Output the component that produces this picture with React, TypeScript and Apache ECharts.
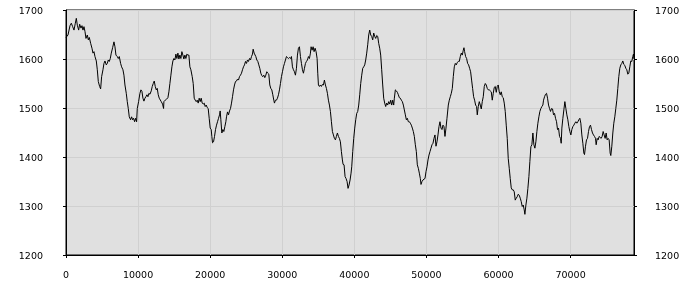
import React, { useEffect, useRef } from "react";
import * as echarts from "echarts";

const X_MIN = 0;
const X_MAX = 78800;
const Y_MIN = 1200;
const Y_MAX = 1700;
const X_STEP = 10000;
const Y_STEP = 100;
const xTickValues = [0, 10000, 20000, 30000, 40000, 50000, 60000, 70000];

const seg0to13k: [number, number][] = [
  [0,1644],[277,1649],[555,1668],[739,1673],[924,1666],[1109,1659],[1294,1673],[1432,1683],[1571,1669],[1756,1659],[1894,1671],[2079,1663],[2218,1668],[2356,1659],[2495,1666],[2634,1656],[2772,1642],[2957,1649],[3096,1639],[3234,1644],[3419,1632],[3604,1622],[3742,1612],[3881,1615],[4020,1605],[4204,1596],[4343,1578],[4482,1554],[4666,1544],[4805,1539],[4944,1564],[5128,1578],[5267,1591],[5406,1596],[5590,1588],[5729,1591],[5868,1598],[6006,1595],[6145,1601],[6283,1612],[6468,1623],[6653,1635],[6792,1625],[6930,1608],[7115,1605],[7254,1601],[7392,1605],[7577,1591],[7716,1584],[7900,1578],[8039,1567],[8178,1547],[8362,1530],[8501,1513],[8640,1499],[8778,1482],[8963,1476],[9102,1482],[9240,1476],[9379,1479],[9517,1472],[9656,1479],[9795,1472],[9887,1499],[10072,1513],[10257,1530],[10395,1537],[10534,1534],[10672,1520],[10811,1514],[10950,1520],[11088,1523],[11227,1527],[11365,1523],[11504,1530],[11643,1528],[11827,1535],[11966,1544],[12105,1550],[12243,1555],[12382,1544],[12520,1537],[12659,1540],[12798,1527],[12936,1520]
];

const seg13to26k: [number, number][] = [
  [13213,1513],[13398,1508],[13536,1499],[13582,1513],[13767,1516],[13952,1518],[14137,1521],[14275,1533],[14414,1550],[14553,1567],[14691,1584],[14830,1596],[14968,1601],[15107,1598],[15246,1610],[15384,1601],[15523,1612],[15661,1600],[15800,1608],[15939,1601],[16077,1615],[16216,1608],[16354,1600],[16493,1608],[16632,1601],[16770,1610],[16909,1608],[17047,1608],[17186,1584],[17325,1578],[17509,1564],[17648,1550],[17787,1520],[17925,1516],[18064,1513],[18202,1516],[18341,1510],[18480,1520],[18618,1513],[18757,1520],[18895,1510],[19034,1508],[19173,1510],[19311,1503],[19450,1506],[19588,1501],[19727,1499],[19866,1479],[20004,1459],[20143,1456],[20235,1442],[20328,1429],[20466,1431],[20605,1442],[20743,1456],[20882,1465],[21021,1472],[21159,1479],[21298,1486],[21390,1494],[21483,1476],[21621,1449],[21760,1456],[21898,1452],[22037,1462],[22176,1472],[22268,1482],[22407,1492],[22545,1486],[22684,1494],[22822,1499],[22961,1510],[23100,1523],[23238,1537],[23377,1547],[23515,1554],[23654,1555],[23793,1559],[23931,1557],[24070,1564],[24208,1567],[24347,1571],[24486,1578],[24624,1584],[24763,1588],[24901,1595],[25040,1591],[25179,1598],[25317,1595],[25456,1601],[25594,1598],[25733,1605],[25872,1610],[25964,1620],[26103,1612]
];

const seg26to40k: [number, number][] = [
  [26334,1605],[26473,1598],[26611,1595],[26750,1588],[26888,1581],[27027,1571],[27166,1566],[27304,1564],[27443,1567],[27581,1562],[27720,1567],[27859,1574],[27997,1571],[28136,1569],[28274,1547],[28413,1540],[28552,1537],[28690,1527],[28829,1516],[28921,1510],[29060,1516],[29198,1516],[29337,1520],[29476,1527],[29614,1537],[29753,1550],[29891,1564],[30030,1574],[30169,1584],[30307,1591],[30446,1598],[30584,1605],[30723,1603],[30862,1601],[31000,1603],[31139,1601],[31277,1605],[31416,1584],[31555,1578],[31693,1574],[31832,1567],[31970,1581],[32109,1608],[32248,1622],[32386,1625],[32525,1605],[32663,1591],[32802,1578],[32941,1571],[33079,1581],[33218,1591],[33356,1595],[33495,1598],[33634,1605],[33772,1601],[33911,1612],[34003,1625],[34142,1618],[34280,1625],[34419,1615],[34558,1622],[34696,1615],[34835,1601],[34927,1571],[35020,1547],[35158,1544],[35297,1547],[35435,1544],[35574,1548],[35713,1547],[35851,1557],[35990,1547],[36128,1540],[36267,1530],[36406,1516],[36544,1506],[36683,1493],[36821,1472],[36960,1452],[37099,1445],[37237,1438],[37376,1435],[37514,1442],[37653,1449],[37792,1442],[37930,1438],[38069,1431],[38207,1411],[38346,1394],[38438,1385],[38577,1384],[38716,1360],[38854,1356],[38993,1350],[39131,1336],[39270,1343],[39409,1353],[39547,1367]
];

const seg40to53k: [number, number][] = [
  [39640,1380],[39779,1411],[39917,1438],[40056,1459],[40194,1476],[40333,1489],[40472,1493],[40610,1506],[40749,1527],[40887,1550],[41026,1567],[41165,1581],[41303,1584],[41442,1588],[41580,1598],[41719,1612],[41858,1629],[41996,1649],[42135,1659],[42273,1649],[42412,1646],[42551,1639],[42689,1653],[42828,1646],[42966,1642],[43105,1648],[43244,1646],[43382,1632],[43521,1622],[43659,1608],[43798,1578],[43937,1547],[44075,1520],[44214,1510],[44352,1503],[44491,1510],[44630,1506],[44768,1513],[44907,1508],[45045,1516],[45184,1506],[45323,1516],[45461,1506],[45554,1520],[45692,1537],[45831,1535],[45969,1532],[46108,1527],[46247,1521],[46385,1520],[46524,1516],[46662,1513],[46801,1506],[46940,1496],[47078,1486],[47217,1476],[47355,1479],[47494,1472],[47633,1472],[47771,1469],[47910,1465],[48048,1459],[48187,1452],[48326,1442],[48464,1425],[48603,1411],[48741,1384],[48880,1377],[49019,1367],[49157,1356],[49250,1344],[49388,1350],[49527,1353],[49665,1355],[49804,1356],[49943,1370],[50081,1380],[50220,1394],[50358,1404],[50497,1411],[50636,1418],[50774,1425],[50913,1428],[51051,1438],[51190,1445],[51329,1422],[51467,1431],[51606,1445],[51744,1462],[51883,1472],[52022,1459],[52160,1456],[52299,1465],[52437,1462],[52576,1442],[52715,1459],[52853,1479]
];

const seg53to66k: [number, number][] = [
  [53037,1506],[53176,1516],[53315,1523],[53453,1530],[53592,1540],[53730,1564],[53869,1584],[54008,1591],[54146,1588],[54285,1593],[54423,1595],[54562,1595],[54701,1605],[54839,1612],[54978,1608],[55116,1618],[55209,1623],[55301,1615],[55440,1605],[55578,1601],[55717,1591],[55856,1588],[55994,1581],[56133,1574],[56271,1557],[56410,1540],[56549,1523],[56687,1516],[56826,1506],[56964,1503],[57057,1486],[57195,1503],[57334,1513],[57473,1506],[57611,1498],[57750,1513],[57888,1523],[58027,1544],[58166,1550],[58304,1547],[58443,1540],[58581,1537],[58720,1537],[58859,1535],[58997,1533],[59136,1516],[59274,1530],[59413,1542],[59552,1544],[59690,1532],[59829,1544],[59967,1547],[60106,1533],[60245,1527],[60383,1533],[60522,1523],[60660,1521],[60799,1510],[60938,1493],[61076,1465],[61215,1438],[61353,1397],[61492,1377],[61631,1356],[61769,1337],[61908,1333],[62046,1333],[62185,1329],[62324,1312],[62462,1316],[62601,1319],[62739,1324],[62878,1322],[63017,1316],[63155,1309],[63294,1299],[63432,1302],[63571,1292],[63663,1283],[63802,1302],[63941,1316],[64079,1336],[64218,1360],[64356,1391],[64495,1421],[64634,1425],[64772,1449],[64911,1425],[65049,1418],[65188,1431],[65327,1452],[65465,1469],[65604,1482],[65742,1493],[65881,1499],[66020,1503],[66158,1506]
];

const seg66to79k: [number, number][] = [
  [66251,1516],[66390,1523],[66528,1528],[66667,1530],[66805,1520],[66944,1506],[67083,1499],[67221,1493],[67360,1499],[67498,1498],[67637,1486],[67776,1489],[67914,1479],[68053,1472],[68191,1456],[68330,1459],[68469,1442],[68607,1438],[68700,1428],[68792,1459],[68931,1479],[69069,1496],[69208,1513],[69347,1499],[69485,1486],[69624,1476],[69762,1462],[69901,1452],[70040,1445],[70178,1456],[70317,1462],[70455,1465],[70594,1469],[70733,1472],[70871,1469],[71010,1472],[71148,1476],[71287,1479],[71425,1469],[71564,1445],[71703,1428],[71841,1408],[71934,1405],[72072,1422],[72211,1435],[72349,1438],[72488,1452],[72627,1462],[72765,1465],[72904,1456],[73042,1449],[73181,1445],[73320,1442],[73458,1438],[73551,1425],[73689,1438],[73828,1435],[73966,1442],[74105,1440],[74244,1438],[74382,1442],[74521,1452],[74659,1445],[74798,1438],[74937,1449],[75075,1435],[75214,1438],[75352,1435],[75491,1408],[75583,1403],[75722,1422],[75861,1449],[75999,1469],[76138,1482],[76276,1499],[76415,1516],[76554,1540],[76692,1564],[76831,1581],[76969,1588],[77108,1591],[77247,1596],[77385,1589],[77524,1587],[77662,1581],[77801,1578],[77940,1569],[78078,1571],[78217,1584],[78355,1596],[78494,1595],[78633,1605],[78725,1610],[78800,1601]
];

const FONT = "DejaVu Sans";

export default function App() {
  const ref = useRef<HTMLDivElement>(null);
  useEffect(() => {
    if (!ref.current) return;
    const chart = echarts.init(ref.current, null, { renderer: "svg" });
    const data = [
      ...seg0to13k,
      ...seg13to26k,
      ...seg26to40k,
      ...seg40to53k,
      ...seg53to66k,
      ...seg66to79k,
    ];
    const yAxisBase = {
      type: "value" as const,
      min: Y_MIN,
      max: Y_MAX,
      interval: Y_STEP,
      axisLine: { show: true, lineStyle: { color: "#000", width: 1 } },
      axisTick: { show: true, length: 3, lineStyle: { color: "#000" } },
    };
    const yLabel = (margin: number) => ({
      color: "#000",
      fontFamily: FONT,
      fontSize: 9.5,
      margin,
      formatter: (v: number) => String(v),
    });
    chart.setOption({
      animation: false,
      grid: {
        left: 66,
        right: 66,
        top: 10,
        bottom: 45,
        show: true,
        backgroundColor: "#e0e0e0",
        borderColor: "#000",
        borderWidth: 1,
      },
      xAxis: {
        type: "value",
        min: X_MIN,
        max: X_MAX,
        interval: X_STEP,
        axisLine: { show: true, lineStyle: { color: "#000", width: 1 } },
        axisTick: {
          show: true,
          length: 3,
          lineStyle: { color: "#000" },
          customValues: xTickValues,
        },
        axisLabel: {
          color: "#000",
          fontFamily: FONT,
          fontSize: 9.5,
          margin: 14,
          customValues: xTickValues,
          formatter: (v: number) => (v % X_STEP === 0 ? String(v) : ""),
        },
        splitLine: { show: true, lineStyle: { color: "#d0d0d0", width: 1 } },
      },
      yAxis: [
        {
          ...yAxisBase,
          position: "left",
          axisLabel: yLabel(23),
          splitLine: { show: true, lineStyle: { color: "#d0d0d0", width: 1 } },
        },
        {
          ...yAxisBase,
          position: "right",
          axisLabel: yLabel(21),
          splitLine: { show: false },
        },
      ],
      series: [
        {
          type: "line",
          data,
          showSymbol: false,
          symbol: "none",
          silent: true,
          yAxisIndex: 0,
          lineStyle: { color: "#000", width: 1 },
        },
      ],
    });
    return () => chart.dispose();
  }, []);
  return (
    <div
      ref={ref}
      style={{ position: "fixed", left: 0, top: 0, width: 700, height: 300 }}
    />
  );
}
